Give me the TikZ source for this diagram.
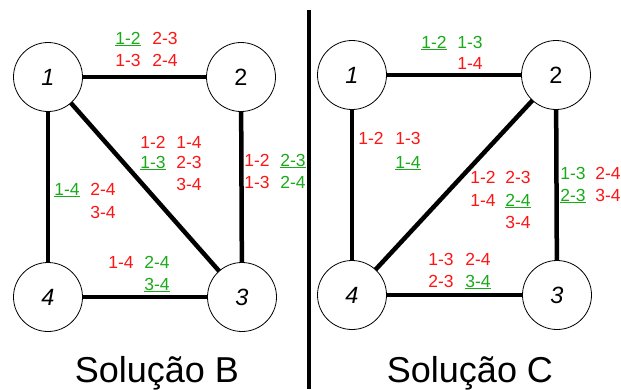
\documentclass[tikz,border=0pt]{standalone}
\usepackage{fontspec}
\setmainfont{Liberation Sans}
\definecolor{okgreen}{RGB}{25,170,25}
\definecolor{badred}{RGB}{255,20,20}
\begin{document}
\begin{tikzpicture}[x=1pt,y=-1pt]
    \tikzstyle{vertex}=[draw,circle,line width=0.8pt,minimum size=69pt,inner sep=0pt,outer sep=0pt,font=\fontsize{23.5}{26}\selectfont]
    \tikzstyle{edge}=[line width=4.5pt]
    \tikzstyle{pair}=[anchor=base,inner sep=0pt,font=\fontsize{17.5}{20}\selectfont]
    \tikzstyle{bad}=[pair,text=badred]
    \tikzstyle{ok}=[pair,text=okgreen]
    \tikzstyle{title}=[anchor=base,inner sep=0pt,font=\fontsize{36}{40}\selectfont]
    \useasboundingbox (0,0) rectangle (621,389);

    % solucao B
    \node[vertex] (b1) at (48,77) {\itshape 1};
    \node[vertex] (b2) at (241,77) {2};
    \node[vertex] (b3) at (242,297) {\itshape 3};
    \node[vertex] (b4) at (48,297) {\itshape 4};
    \draw[edge] (b1) -- (b2);
    \draw[edge] (b1) -- (b4);
    \draw[edge] (b1) -- (b3);
    \draw[edge] (b2) -- (b3);
    \draw[edge] (b4) -- (b3);

    \node[ok] (b12a) at (128,44) {\underline{1-2}};
    \node[bad] (b12b) at (165,44) {2-3};
    \node[bad] (b12c) at (128,66) {1-3};
    \node[bad] (b12d) at (165,66) {2-4};

    \node[bad] (b13a) at (153,148) {1-2};
    \node[bad] (b13b) at (189,148) {1-4};
    \node[ok] (b13c) at (153,168) {\underline{1-3}};
    \node[bad] (b13d) at (189,168) {2-3};
    \node[bad] (b13e) at (189,190) {3-4};

    \node[bad] (b23a) at (257,166) {1-2};
    \node[ok] (b23b) at (293,166) {\underline{2-3}};
    \node[bad] (b23c) at (257,188) {1-3};
    \node[ok] (b23d) at (293,188) {2-4};

    \node[ok] (b14a) at (67,195) {\underline{1-4}};
    \node[bad] (b14b) at (103,195) {2-4};
    \node[bad] (b14c) at (103,218) {3-4};

    \node[bad] (b43a) at (121,268) {1-4};
    \node[ok] (b43b) at (157,268) {2-4};
    \node[ok] (b43c) at (157,290) {\underline{3-4}};

    \node[title] (tb) at (157,382) {Solução B};

    % separador
    \coordinate (sepa) at (309,10);
    \coordinate (sepb) at (309,389);
    \draw[line width=4.5pt] (sepa) -- (sepb);

    % solucao C
    \node[vertex] (c1) at (352,75) {\itshape 1};
    \node[vertex] (c2) at (556,75) {2};
    \node[vertex] (c3) at (557,295) {\itshape 3};
    \node[vertex] (c4) at (352,295) {\itshape 4};
    \draw[edge] (c1) -- (c2);
    \draw[edge] (c1) -- (c4);
    \draw[edge] (c2) -- (c4);
    \draw[edge] (c2) -- (c3);
    \draw[edge] (c4) -- (c3);

    \node[ok] (c12a) at (434,48) {\underline{1-2}};
    \node[ok] (c12b) at (470,48) {1-3};
    \node[bad] (c12c) at (470,69) {1-4};

    \node[bad] (c14a) at (371,144) {1-2};
    \node[bad] (c14b) at (408,144) {1-3};
    \node[ok] (c14c) at (408,168) {\underline{1-4}};

    \node[bad] (c24a) at (483,183) {1-2};
    \node[bad] (c24b) at (518,183) {2-3};
    \node[bad] (c24c) at (483,206) {1-4};
    \node[ok] (c24d) at (518,206) {\underline{2-4}};
    \node[bad] (c24e) at (518,228) {3-4};

    \node[ok] (c23a) at (573,179) {1-3};
    \node[bad] (c23b) at (608,179) {2-4};
    \node[ok] (c23c) at (573,201) {\underline{2-3}};
    \node[bad] (c23d) at (608,201) {3-4};

    \node[bad] (c43a) at (441,265) {1-3};
    \node[bad] (c43b) at (478,265) {2-4};
    \node[bad] (c43c) at (441,287) {2-3};
    \node[ok] (c43d) at (478,287) {\underline{3-4}};

    \node[title] (tc) at (470,382) {Solução C};
\end{tikzpicture}
\end{document}
